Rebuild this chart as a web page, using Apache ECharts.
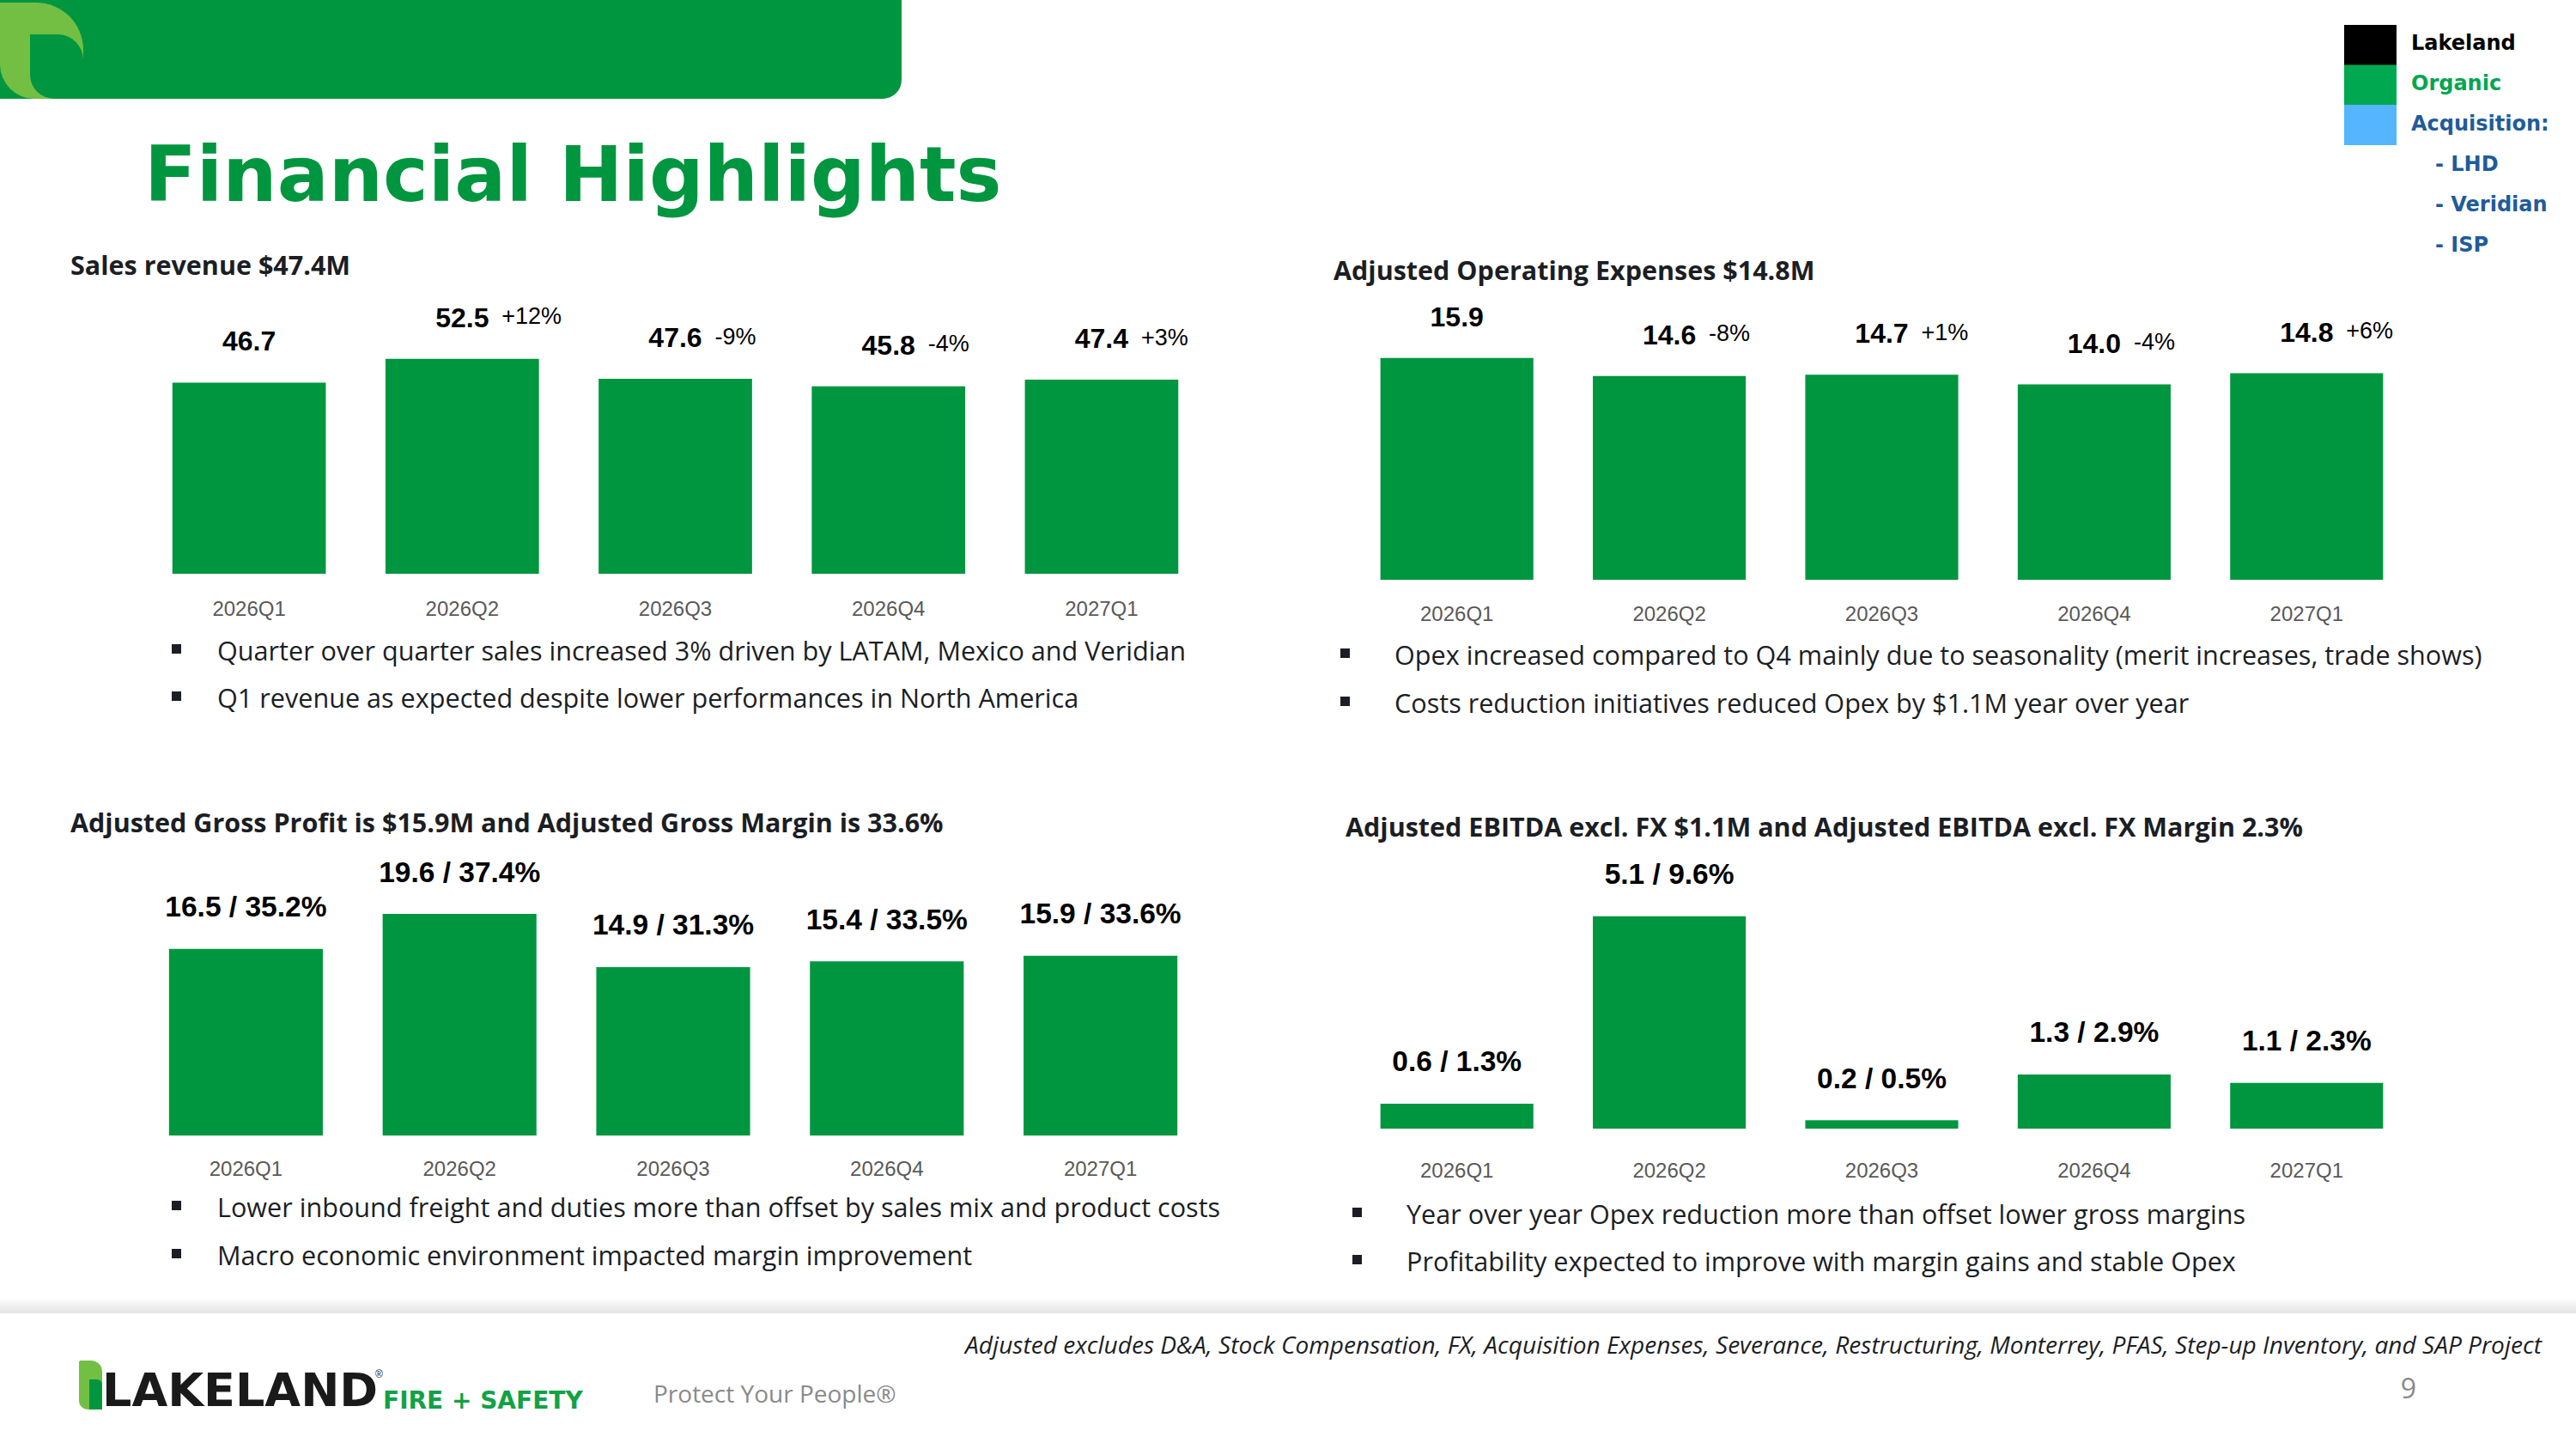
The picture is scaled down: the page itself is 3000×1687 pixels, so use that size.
<!DOCTYPE html>
<html>
<head>
<meta charset="utf-8">
<script src="https://cdn.jsdelivr.net/npm/echarts@6/dist/echarts.min.js"></script>
<style>
html,body{margin:0;padding:0;background:#fff;}
#chart{width:3000px;height:1687px;}
</style>
</head>
<body>
<div id="chart"></div>
<script>
// ---- data ----
const categories = ['2026Q1', '2026Q2', '2026Q3', '2026Q4', '2027Q1'];
const salesValues = [46.7, 52.5, 47.6, 45.8, 47.4];
const salesChange = ['', '+12%', '-9%', '-4%', '+3%'];
const opexValues = [15.9, 14.6, 14.7, 14.0, 14.8];
const opexChange = ['', '-8%', '+1%', '-4%', '+6%'];
const grossProfit = [16.5, 19.6, 14.9, 15.4, 15.9];
const grossMargin = ['35.2%', '37.4%', '31.3%', '33.5%', '33.6%'];
const ebitdaValues = [0.6, 5.1, 0.2, 1.3, 1.1];
const ebitdaMargin = ['1.3%', '9.6%', '0.5%', '2.9%', '2.3%'];

const pageTitle = 'Financial Highlights';
const panelTitles = [
  'Sales revenue $47.4M',
  'Adjusted Operating Expenses $14.8M',
  'Adjusted Gross Profit is $15.9M and Adjusted Gross Margin is 33.6%',
  'Adjusted EBITDA excl. FX $1.1M and Adjusted EBITDA excl. FX Margin 2.3%'
];
const salesBullets = ['Quarter over quarter sales increased 3% driven by LATAM, Mexico and Veridian', 'Q1 revenue as expected despite lower performances in North America'];
const opexBullets = ['Opex increased compared to Q4 mainly due to seasonality (merit increases, trade shows)', 'Costs reduction initiatives reduced Opex by $1.1M year over year'];
const grossBullets = ['Lower inbound freight and duties more than offset by sales mix and product costs', 'Macro economic environment impacted margin improvement'];
const ebitdaBullets = ['Year over year Opex reduction more than offset lower gross margins', 'Profitability expected to improve with margin gains and stable Opex'];
const legendItems = ['Lakeland', 'Organic', 'Acquisition:', '- LHD', '- Veridian', '- ISP'];
const footnote = 'Adjusted excludes D&A, Stock Compensation, FX, Acquisition Expenses, Severance, Restructuring, Monterrey, PFAS, Step-up Inventory, and SAP Project';

// ---- styling ----
const GREEN = '#00963F';
const LIGHT_GREEN = '#72BF44';
const TEXT_DARK = '#1b1e24';
const ARIAL = '"Liberation Sans", Arial, sans-serif';
const BODY = '"Open Sans", "Noto Sans", sans-serif';

const chart = echarts.init(document.getElementById('chart'), null, {renderer: 'svg'});

const grids = [
  {left: 166, top: 382, width: 1241, height: 286},
  {left: 1573, top: 350, width: 1237, height: 325},
  {left: 162, top: 993, width: 1244, height: 329},
  {left: 1573, top: 1023, width: 1237, height: 291}
];
const yMax = [60, 20, 25, 6];
const labelMargins = [28, 27, 26, 36];

const xAxes = grids.map((gr, i) => ({
  type: 'category', gridIndex: i, data: categories,
  axisLine: {show: false}, axisTick: {show: false},
  axisLabel: {color: '#595959', fontSize: 24, fontFamily: ARIAL, margin: labelMargins[i]}
}));
const yAxes = grids.map((gr, i) => ({
  type: 'value', gridIndex: i, min: 0, max: yMax[i], show: false, splitLine: {show: false}
}));

function valueSeries(i, data, fmt, size) {
  return {
    type: 'bar', xAxisIndex: i, yAxisIndex: i, data: data, barWidth: '72%', barGap: '-100%',
    itemStyle: {color: GREEN}, silent: true,
    label: {show: true, position: 'top', distance: 32, formatter: fmt,
      fontFamily: ARIAL, fontWeight: 'bold', fontSize: size || 32, color: '#000'}
  };
}
function changeSeries(i, data, changes) {
  return {
    type: 'bar', xAxisIndex: i, yAxisIndex: i, data: data, barWidth: '72%', barGap: '-100%',
    itemStyle: {color: 'rgba(0,0,0,0)'}, silent: true, z: 5,
    label: {show: true, position: 'top', distance: 36, align: 'left', offset: [46, 0],
      formatter: p => changes[p.dataIndex], fontFamily: ARIAL, fontSize: 27, color: '#000'}
  };
}

const series = [
  valueSeries(0, salesValues, p => salesValues[p.dataIndex].toFixed(1)),
  changeSeries(0, salesValues, salesChange),
  valueSeries(1, opexValues, p => opexValues[p.dataIndex].toFixed(1)),
  changeSeries(1, opexValues, opexChange),
  valueSeries(2, grossProfit, p => grossProfit[p.dataIndex].toFixed(1) + ' / ' + grossMargin[p.dataIndex], 33.5),
  valueSeries(3, ebitdaValues, p => ebitdaValues[p.dataIndex].toFixed(1) + ' / ' + ebitdaMargin[p.dataIndex], 33.5)
];

// ---- graphic (slide furniture) ----
function txt(x, y, text, st) {
  return {type: 'text', x: x, y: y, silent: true,
    style: Object.assign({text: text, fill: TEXT_DARK, fontFamily: BODY, fontSize: 29,
      align: 'left', verticalAlign: 'middle'}, st || {})};
}
function box(x, y, w, h, fill, r) {
  return {type: 'rect', silent: true, shape: {x: x, y: y, width: w, height: h, r: r || 0}, style: {fill: fill}};
}
const g = [];
// banner
g.push(box(0, 0, 1050, 115, GREEN, [0, 0, 22, 0]));
g.push(box(0, 3, 97, 112, LIGHT_GREEN, [0, 55, 0, 40]));
g.push(box(35, 40, 62, 75, GREEN, [0, 30, 0, 28]));
// title
g.push(txt(168, 203, pageTitle, {fill: GREEN, fontFamily: '"DejaVu Sans", sans-serif', fontWeight: 'bold', fontSize: 89}));
// legend
const legendColors = ['#000000', '#00A850', '#55B5FF'];
legendColors.forEach((c, k) => g.push(box(2730, 29 + k * 46.5, 61, 47, c)));
const legendTextColors = ['#000000', '#00A651', '#1F5C99', '#1F5C99', '#1F5C99', '#1F5C99'];
const legendY = [50, 97, 144, 191, 238, 285];
legendItems.forEach((t, k) => g.push(txt(k < 3 ? 2808 : 2836, legendY[k], t,
  {fill: legendTextColors[k], fontFamily: '"DejaVu Sans", sans-serif', fontWeight: 'bold', fontSize: 24})));
// panel titles
const titlePos = [[82, 308], [1553, 314], [82, 957], [1567, 962]];
panelTitles.forEach((t, k) => g.push(txt(titlePos[k][0], titlePos[k][1], t, {fontWeight: 'bold', fontSize: 30.5})));
// bullets
function bullets(list, bx, tx, ys) {
  list.forEach((t, k) => {
    g.push(box(bx, ys[k] - 7, 11, 11, TEXT_DARK));
    g.push(txt(tx, ys[k], t, {fontSize: 30.6}));
  });
}
bullets(salesBullets, 200, 253, [757, 812]);
bullets(opexBullets, 1561, 1624, [762, 818]);
bullets(grossBullets, 200, 253, [1405, 1461]);
bullets(ebitdaBullets, 1575, 1638, [1413, 1468]);
// footer
g.push({type: 'rect', silent: true, shape: {x: 0, y: 1511, width: 3000, height: 18},
  style: {fill: {type: 'linear', x: 0, y: 0, x2: 0, y2: 1, colorStops: [{offset: 0, color: '#ffffff'}, {offset: 1, color: '#e4e4e4'}]}}});
g.push(txt(2960, 1565, footnote, {align: 'right', fontStyle: 'italic', fontSize: 28.1}));
g.push(box(92, 1584, 27, 57, LIGHT_GREEN, [2, 13, 2, 10]));
g.push(box(104, 1606, 15, 35, GREEN, [0, 6, 0, 0]));
g.push(txt(119, 1618, 'LAKELAND', {fill: '#1a1a1a', fontFamily: '"DejaVu Sans", sans-serif', fontWeight: 'bold', fontSize: 54}));
g.push(txt(437, 1600, '®', {fill: '#1a1a1a', fontFamily: ARIAL, fontSize: 12}));
g.push(txt(446, 1630, 'FIRE + SAFETY', {fill: '#11A245', fontFamily: '"DejaVu Sans", sans-serif', fontWeight: 'bold', fontSize: 28}));
g.push(txt(761, 1622, 'Protect Your People®', {fill: '#8a8a8a', fontSize: 28}));
g.push(txt(2805, 1615, '9', {fill: '#8a8a8a', fontSize: 32, align: 'center'}));

chart.setOption({
  animation: false,
  backgroundColor: '#ffffff',
  grid: grids,
  xAxis: xAxes,
  yAxis: yAxes,
  series: series,
  graphic: g
});
</script>
</body>
</html>
